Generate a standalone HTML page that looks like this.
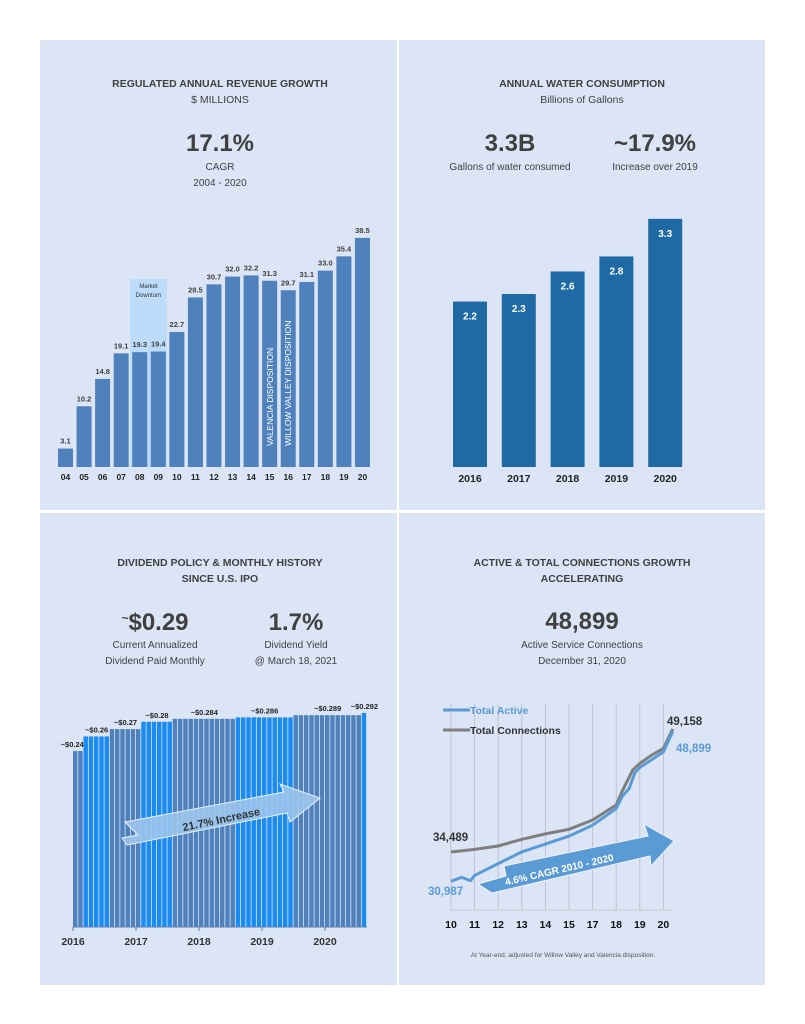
<!DOCTYPE html>
<html><head><meta charset="utf-8"><style>
body{margin:0;background:#fff;}
svg{display:block;font-family:"Liberation Sans",sans-serif;}
</style></head><body>
<svg id="s" width="805" height="1024" viewBox="0 0 805 1024" xmlns="http://www.w3.org/2000/svg">
<rect x="40" y="40" width="357" height="470" fill="#dce5f5"/>
<rect x="399" y="40" width="366" height="470" fill="#dce5f5"/>
<rect x="40" y="513" width="357" height="472" fill="#dce5f5"/>
<rect x="399" y="513" width="366" height="472" fill="#dce5f5"/>
<g fill="#404040" text-anchor="middle">
<text x="220" y="87" font-size="10.5" font-weight="bold">REGULATED ANNUAL REVENUE GROWTH</text>
<text x="220" y="103" font-size="10.5">$ MILLIONS</text>
<text x="220" y="151" font-size="24" font-weight="bold">17.1%</text>
<text x="220" y="170" font-size="10">CAGR</text>
<text x="220" y="186" font-size="10">2004 - 2020</text>
<text x="582" y="87" font-size="10.5" font-weight="bold">ANNUAL WATER CONSUMPTION</text>
<text x="582" y="103" font-size="10.5">Billions of Gallons</text>
<text x="510" y="151" font-size="24" font-weight="bold">3.3B</text>
<text x="510" y="170" font-size="10">Gallons of water consumed</text>
<text x="655" y="151" font-size="24" font-weight="bold">~17.9%</text>
<text x="655" y="170" font-size="10">Increase over 2019</text>
<text x="220" y="566" font-size="10.5" font-weight="bold">DIVIDEND POLICY &amp; MONTHLY HISTORY</text>
<text x="220" y="582" font-size="10.5" font-weight="bold">SINCE U.S. IPO</text>
<text x="155" y="630" font-size="24" font-weight="bold"><tspan font-size="12" dy="-8">~</tspan><tspan dy="8">$0.29</tspan></text>
<text x="155" y="648" font-size="10">Current Annualized</text>
<text x="155" y="664" font-size="10">Dividend Paid Monthly</text>
<text x="296" y="630" font-size="24" font-weight="bold">1.7%</text>
<text x="296" y="648" font-size="10">Dividend Yield</text>
<text x="296" y="664" font-size="10">@ March 18, 2021</text>
<text x="582" y="566" font-size="10.5" font-weight="bold">ACTIVE &amp; TOTAL CONNECTIONS GROWTH</text>
<text x="582" y="582" font-size="10.5" font-weight="bold">ACCELERATING</text>
<text x="582" y="629" font-size="24" font-weight="bold">48,899</text>
<text x="582" y="648" font-size="10">Active Service Connections</text>
<text x="582" y="664" font-size="10">December 31, 2020</text>
</g>
<g id="p1"></g><g id="p2"></g><g id="p3"></g><g id="p4"></g>
</svg>
<script>
const NS="http://www.w3.org/2000/svg";
function mk(par,tag,at,txt){const e=document.createElementNS(NS,tag);for(const k in at)e.setAttribute(k,at[k]);if(txt!==undefined)e.textContent=txt;document.getElementById(par).appendChild(e);return e;}

// Panel 1 data
const revYears=["04","05","06","07","08","09","10","11","12","13","14","15","16","17","18","19","20"];
const revValues=[3.1,10.2,14.8,19.1,19.3,19.4,22.7,28.5,30.7,32.0,32.2,31.3,29.7,31.1,33.0,35.4,38.5];
// Panel 2 data
const waterYears=["2016","2017","2018","2019","2020"];
const waterValues=[2.2,2.3,2.6,2.8,3.3];
// Panel 3 data
const divValues=[0.24,0.26,0.27,0.28,0.284,0.286,0.289,0.292];
const divMonths=[2,5,6,6,12,11,13,1];
const divLabels=["~$0.24","~$0.26","~$0.27","~$0.28","~$0.284","~$0.286","~$0.289","~$0.292"];
const divYearTicks=["2016","2017","2018","2019","2020"];
// Panel 4 data (t = position on axis, in label steps from "10")
const connLabels=["10","11","12","13","14","15","17","18","19","20"];
const totalT=[0,1,2,3,4,5,6,7,7.24,7.7,8,8.5,9,9.4];
const totalV=[34489,34800,35200,36000,36650,37200,38300,40100,41670,44270,45060,46050,46850,49158];
const activeT=[0,0.44,0.83,1,2,3,4,5,6,7,7.24,7.55,7.79,8,9,9.4];
const activeV=[30987,31470,31080,31700,33100,34500,35430,36380,37690,39680,41070,42070,43930,44570,46430,48899];

// Panel 1
{const x0=58,pitch=18.56,bw=15,base=467,ys=v=>base-v*5.95;
 let r=mk("p1","rect",{x:130,y:279,width:37,height:base-279,fill:"#bcdcfa"});
 
 revValues.forEach((v,i)=>{const x=x0+i*pitch;
  const b=mk("p1","rect",{x:x,y:ys(v),width:bw,height:base-ys(v),fill:"#4f81bd"});
  
  const t=mk("p1","text",{x:x+bw/2,y:ys(v)-5,"text-anchor":"middle","font-size":"7.5","font-weight":"bold",fill:"#404040"},v.toFixed(1));
  
  const l=mk("p1","text",{x:x+bw/2,y:480,"text-anchor":"middle","font-size":"8.5","font-weight":"bold",fill:"#222"},revYears[i]);
  });
 let t=mk("p1","text",{x:148.5,y:288,"text-anchor":"middle","font-size":"6",fill:"#333"},"Market");
 
 t=mk("p1","text",{x:148.5,y:297,"text-anchor":"middle","font-size":"6",fill:"#333"},"Downturn");
 
 t=mk("p1","text",{transform:"translate(273,446) rotate(-90)","font-size":"8.5",fill:"#fff"},"VALENCIA DISPOSITION");
 
 t=mk("p1","text",{transform:"translate(291,446) rotate(-90)","font-size":"8.5",fill:"#fff"},"WILLOW VALLEY DISPOSITION");
 }

// Panel 2
{const x0=453,pitch=48.8,bw=34,base=467,ys=v=>base-v*75.2;
 waterValues.forEach((v,i)=>{const x=x0+i*pitch;
  const b=mk("p2","rect",{x:x,y:ys(v),width:bw,height:base-ys(v),fill:"#1f6aa5"});
  
  const t=mk("p2","text",{x:x+bw/2,y:ys(v)+18,"text-anchor":"middle","font-size":"10","font-weight":"bold",fill:"#fff"},v.toFixed(1));
  
  const l=mk("p2","text",{x:x+bw/2,y:482,"text-anchor":"middle","font-size":"10.5","font-weight":"bold",fill:"#222"},waterYears[i]);
  });}

// Panel 3
{const x0=73,mw=5.25,base=927,ys=v=>base-v*733;
 let m=0;
 divValues.forEach((v,g)=>{const col=g%2?"#1a8cf0":"#4f81bd";
  for(let k=0;k<divMonths[g];k++){const x=x0+(m+k)*mw;
   const b=mk("p3","rect",{x:x,y:ys(v),width:mw-0.8,height:base-ys(v),fill:col});
   }
  const cx=x0+(m+divMonths[g]/2)*mw;
  const t=mk("p3","text",{x:g==0?cx-6:cx,y:ys(v)-4,"text-anchor":"middle","font-size":"7.5","font-weight":"bold",fill:"#222"},divLabels[g]);
  
  m+=divMonths[g];});
 let a=mk("p3","line",{x1:x0,y1:base,x2:x0+m*mw,y2:base,stroke:"#5a7fb5","stroke-width":"1"});
 
 divYearTicks.forEach((y,i)=>{const x=x0+i*12*mw;
  const tk=mk("p3","line",{x1:x,y1:base,x2:x,y2:base+4,stroke:"#5a7fb5"});
  
  const l=mk("p3","text",{x:x,y:945,"text-anchor":"middle","font-size":"10.5","font-weight":"bold",fill:"#333"},y);
  });
 a=mk("p3","path",{d:"M122,838 L138,835 L125,822 L284,792 L280,784 L320,798 L290,822 L287,813 L127,845 Z",fill:"#9cc5ec","fill-opacity":"0.9",stroke:"#e8f2fc","stroke-width":"1"});
 
 const t=mk("p3","text",{transform:"translate(222,823) rotate(-12)","text-anchor":"middle","font-size":"11","font-weight":"bold",fill:"#333"},"21.7% Increase");
 }

// Panel 4
{const xs=t=>451+t*23.6,ys=v=>852-(v-34489)*0.008385;
 connLabels.forEach((l,i)=>{const x=xs(i);
  const g=mk("p4","line",{x1:x,y1:704,x2:x,y2:910,stroke:"#b8bcc4","stroke-width":"0.8"});
  
  const t=mk("p4","text",{x:x,y:928,"text-anchor":"middle","font-size":"10.5","font-weight":"bold",fill:"#111"},l);
  });
 let ax=mk("p4","line",{x1:450,y1:910,x2:673,y2:910,stroke:"#c6c9cf"});
 
 let a=mk("p4","path",{d:"M478,884 L506,876 L504,866 L648,836 L644,824 L674,841 L651,866 L650,856 L492,893 Z",fill:"#5b9bd5",stroke:"#eef4fb","stroke-width":"1"});
 
 let t=mk("p4","text",{transform:"translate(560,873) rotate(-13)","text-anchor":"middle","font-size":"10","font-weight":"bold",fill:"#fff"},"4.6% CAGR 2010 - 2020");
 
 const pts=(T,V)=>T.map((t,i)=>xs(t).toFixed(1)+","+ys(V[i]).toFixed(1)).join(" ");
 let p=mk("p4","polyline",{points:pts(totalT,totalV),fill:"none",stroke:"#7f7f7f","stroke-width":"3"});
 
 p=mk("p4","polyline",{points:pts(activeT,activeV),fill:"none",stroke:"#5b9bd5","stroke-width":"3"});
 
 let l=mk("p4","line",{x1:443,y1:710,x2:470,y2:710,stroke:"#5b9bd5","stroke-width":"3"});
 
 t=mk("p4","text",{x:470,y:714,"font-size":"10.5","font-weight":"bold",fill:"#5b9bd5"},"Total Active");
 
 l=mk("p4","line",{x1:443,y1:730,x2:470,y2:730,stroke:"#7f7f7f","stroke-width":"3"});
 
 t=mk("p4","text",{x:470,y:734,"font-size":"10.5","font-weight":"bold",fill:"#333"},"Total Connections");
 
 const lab=(x,y,txt,c,n)=>{const e=mk("p4","text",{x:x,y:y,"font-size":"11.5","font-weight":"bold",fill:c},txt);
  };
 lab(433,841,"34,489","#333","total-start-label");
 lab(428,895,"30,987","#5b9bd5","active-start-label");
 lab(667,725,"49,158","#333","total-end-label");
 lab(676,752,"48,899","#5b9bd5","active-end-label");
 t=mk("p4","text",{x:563,y:957,"text-anchor":"middle","font-size":"6.5",fill:"#555"},"At Year-end, adjusted for Willow Valley and Valencia disposition.");
 }
</script>
</body></html>
